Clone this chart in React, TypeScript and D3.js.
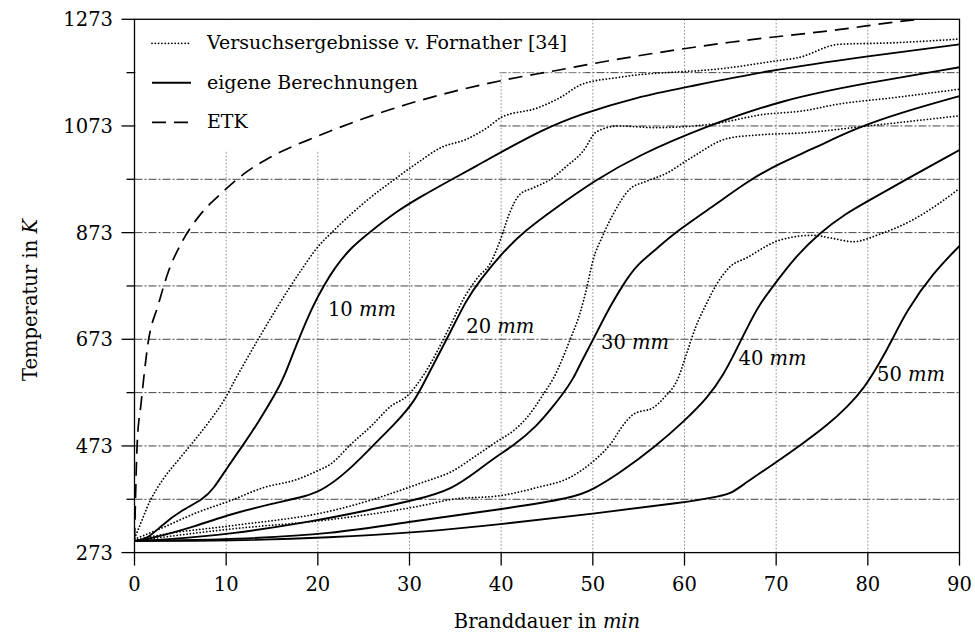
import React from "react";
import * as d3 from "d3";

// ---- data (time in min, temperature in K) ----
const etk: [number, number][] = [[0,293],[0.3,480],[0.7,550],[1.5,668],[2.6,738],[3.7,800],[5.1,853],[7,903],[9.5,947],[12,984],[15,1016],[20,1054],[25,1087],[30,1115],[40,1158],[46,1177],[52,1196],[65,1230],[77,1254],[84,1270],[90,1279]];

const calc10: [number, number][] = [[0,295],[1.3,297],[3.1,326],[5,351],[7.5,373],[8.6,392],[10.1,432],[11.9,476],[13.4,514],[15.5,575],[16.2,597],[17.7,665],[19.5,738],[20.7,775],[21.8,806],[23.6,845],[25.8,876],[28.7,914],[31.2,940],[34.4,971],[37.3,998],[40,1024],[44.5,1066],[48.6,1095],[55,1128],[60,1145],[68.8,1176],[80,1204],[90,1226]];
const calc20: [number, number][] = [[0,295],[1.3,297],[6.8,323],[10.4,345],[14.8,364],[18.9,379],[20.7,392],[23.3,426],[25.8,470],[28.4,514],[30.6,557],[31.9,603],[34.4,684],[36.2,747],[37.7,784],[40.2,837],[42.7,878],[45.6,915],[50.3,972],[55,1018],[62,1070],[70.8,1123],[80,1154],[90,1183]];
const calc30: [number, number][] = [[0,295],[3,297],[10.4,307],[19.6,332],[25.1,351],[31,373],[34.7,392],[37.6,429],[39.8,457],[41.3,473],[43.9,510],[45.7,548],[46.8,572],[47.9,600],[48.6,626],[50.2,678],[52,739],[53.7,786],[54.8,812],[56.7,839],[59.1,875],[63.1,922],[67.1,972],[70.4,1003],[74,1030],[78.8,1070],[84,1100],[90,1129]];
const calc40: [number, number][] = [[0,295],[5,296],[10.4,298],[21.4,307],[31,334],[40,354],[48,376],[50,391],[53,423],[56.7,470],[60,520],[62.6,565],[64.2,605],[65.5,648],[66.9,697],[68.3,742],[69.8,775],[71.8,822],[74.7,872],[77.6,909],[80.2,934],[84.2,973],[90,1028]];
const calc50: [number, number][] = [[0,295],[10.4,295],[21.4,301],[31,311],[40,326],[50,346],[60,367],[64,379],[65.2,385],[66.6,403],[69.8,440],[72.7,475],[75.6,512],[77.8,547],[79.6,581],[81.4,632],[82.6,670],[84.2,726],[87.1,797],[90,848]];

const test10: [number, number][] = [[0,300],[0.3,312],[1.7,370],[3.1,410],[5,451],[6.8,489],[8.2,520],[9.7,557],[11,598],[13.7,679],[17,772],[18.2,803],[19.8,842],[21.8,878],[25.4,934],[28.3,972],[30.8,1003],[33.5,1033],[36.2,1048],[38.5,1070],[40,1089],[44,1107],[46.4,1126],[48.8,1151],[52.8,1164],[64.8,1182],[70,1195],[72.4,1201],[76.8,1226],[82.8,1229],[90,1236]];
const test20: [number, number][] = [[0,298],[3.1,320],[6.8,348],[10.4,370],[14.1,395],[17.7,410],[19.9,426],[21.4,439],[23.6,476],[25.8,510],[28,548],[29.7,566],[31.5,605],[34.2,690],[36,752],[37.5,790],[38.8,815],[39.9,859],[40.9,909],[42,944],[43.5,957],[45.3,972],[47.1,997],[48.9,1025],[50.4,1062],[52.8,1073],[56.8,1070],[62.8,1076],[68.8,1095],[72.8,1101],[76.8,1114],[82.8,1126],[90,1142]];
const test30: [number, number][] = [[0,296],[3.1,307],[10.4,323],[21.4,351],[31.5,405],[34.7,426],[37.2,454],[39.6,482],[41.3,501],[42.8,526],[44.6,570],[45.7,600],[47.6,676],[48.6,722],[49.3,767],[50,820],[51.1,868],[52.2,907],[54,954],[55.8,969],[58,984],[60.6,1012],[64.8,1050],[68.8,1057],[72.8,1060],[80,1073],[90,1092]];
const test40: [number, number][] = [[0,295],[10.4,317],[21.4,335],[31,360],[34.7,373],[40,380],[43.9,395],[47.5,414],[50.1,445],[51.9,476],[53.4,514],[54.4,532],[56.7,546],[57.8,564],[59.3,600],[60.3,650],[61.2,695],[62.4,740],[63.5,776],[64.9,808],[66.8,826],[70.4,859],[74,868],[76.2,862],[78.4,856],[81.3,870],[84.9,897],[87.8,928],[90,956]];

const calcSeries = [calc10, calc20, calc30, calc40, calc50];
const testSeries = [test10, test20, test30, test40];

const xTicks = [0, 10, 20, 30, 40, 50, 60, 70, 80, 90];
const yMajor = [273, 473, 673, 873, 1073, 1273];
const yMinor = [373, 573, 773, 973, 1173];
const yGrid = [373, 473, 573, 673, 773, 873, 973, 1073, 1173];

const curveLabels: { num: string; t: number; T: number }[] = [
  { num: "10", t: 21.1, T: 716 },
  { num: "20", t: 36.2, T: 684 },
  { num: "30", t: 50.9, T: 655 },
  { num: "40", t: 65.9, T: 625 },
  { num: "50", t: 81.0, T: 595 },
];

const legendItems = [
  { label: "Versuchsergebnisse v. Fornather [34]", kind: "dot" },
  { label: "eigene Berechnungen", kind: "solid" },
  { label: "ETK", kind: "dash" },
];

const FONT = "DejaVu Serif";

export default function App() {
  const W = 975, H = 638;
  const left = 134.5, right = 959.5, top = 19.3, bottom = 552.6;
  const x = d3.scaleLinear().domain([0, 90]).range([left, right]);
  const y = d3.scaleLinear().domain([273, 1273]).range([bottom, top]);
  const lineMono = d3.line<[number, number]>().x(d => x(d[0])).y(d => y(d[1])).curve(d3.curveMonotoneX);
  const lineSmooth = d3.line<[number, number]>().x(d => x(d[0])).y(d => y(d[1])).curve(d3.curveBasis);

  const dotStyle = { stroke: "#000", strokeWidth: 1.8, strokeDasharray: "0.01,3.3", strokeLinecap: "round" as const, fill: "none" };
  const solidStyle = { stroke: "#000", strokeWidth: 1.9, fill: "none" };
  const dashStyle = { stroke: "#000", strokeWidth: 1.7, strokeDasharray: "14,8", fill: "none" };

  return (
    <div style={{ position: "absolute", left: 0, top: 0 }}>
      <svg width={W} height={H} style={{ display: "block", background: "#fff" }} fontFamily={FONT}>
        <defs>
          <clipPath id="plot">
            <rect x={left} y={top} width={right - left} height={bottom - top} />
          </clipPath>
        </defs>
        <rect x={0} y={0} width={W} height={H} fill="#fff" />
        {/* grid */}
        {yGrid.map(v => (
          <line key={"gy" + v} x1={left} x2={right} y1={y(v)} y2={y(v)} stroke="#444" strokeWidth={1} strokeDasharray="8,2,2,2" />
        ))}
        {xTicks.slice(1, -1).map(v => (
          <line key={"gx" + v} x1={x(v)} x2={x(v)} y1={top} y2={bottom} stroke="#888" strokeWidth={1} strokeDasharray="1.5,2" />
        ))}
        {/* legend background */}
        <rect x={left + 1} y={top + 1} width={450} height={52} fill="#fff" />
        <rect x={left + 1} y={top + 1} width={364} height={130} fill="#fff" />
        {/* curves */}
        <g clipPath="url(#plot)">
          {testSeries.map((s, i) => <path key={"t" + i} d={lineMono(s) || ""} {...dotStyle} />)}
          {calcSeries.map((s, i) => <path key={"c" + i} d={lineSmooth(s) || ""} {...solidStyle} />)}
          <path d={lineMono(etk) || ""} {...dashStyle} />
        </g>
        {/* frame */}
        <rect x={left} y={top} width={right - left} height={bottom - top} fill="none" stroke="#000" strokeWidth={1.3} />
        {/* y ticks */}
        {yMajor.map(v => (
          <g key={"ym" + v}>
            <line x1={left - 13} x2={left} y1={y(v)} y2={y(v)} stroke="#000" strokeWidth={1.3} />
            <text x={113} y={y(v) + 7} textAnchor="end" fontSize={19.5}>{v}</text>
          </g>
        ))}
        {yMinor.map(v => (
          <line key={"yn" + v} x1={left - 8} x2={left} y1={y(v)} y2={y(v)} stroke="#000" strokeWidth={1.3} />
        ))}
        {/* x ticks */}
        {xTicks.map(v => (
          <g key={"xt" + v}>
            <line x1={x(v)} x2={x(v)} y1={bottom} y2={bottom + 13} stroke="#000" strokeWidth={1.3} />
            <text x={x(v)} y={591} textAnchor="middle" fontSize={19.5}>{v}</text>
          </g>
        ))}
        {/* axis titles */}
        <text x={(left + right) / 2} y={628} textAnchor="middle" fontSize={19.5}>
          Branddauer in <tspan fontStyle="italic">min</tspan>
        </text>
        <text transform={`translate(37,300) rotate(-90)`} textAnchor="middle" fontSize={19.5}>
          Temperatur in <tspan fontStyle="italic">K</tspan>
        </text>
        {/* curve labels */}
        {curveLabels.map(l => (
          <text key={l.num} x={x(l.t)} y={y(l.T)} fontSize={19.5}>
            {l.num} <tspan fontStyle="italic">mm</tspan>
          </text>
        ))}
        {/* legend */}
        {legendItems.map((it, i) => {
          const base = 49.3 + i * 39.5;
          const ly = base - 6;
          const st = it.kind === "dot" ? dotStyle : it.kind === "solid" ? solidStyle : dashStyle;
          return (
            <g key={it.label}>
              <line x1={152} x2={191} y1={ly} y2={ly} {...st} />
              <text x={207} y={base} fontSize={19}>{it.label}</text>
            </g>
          );
        })}
      </svg>
    </div>
  );
}
